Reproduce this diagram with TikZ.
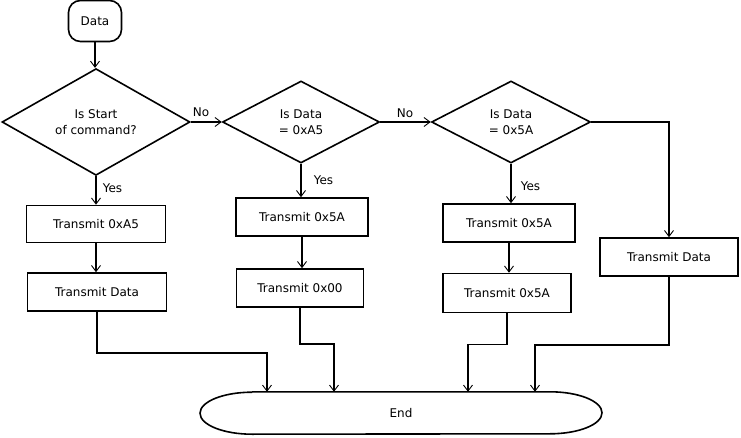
\documentclass[tikz,border=0pt]{standalone}
\usepackage{fontspec}
\setmainfont{DejaVu Sans}
\usetikzlibrary{shapes.geometric,arrows.meta}
\begin{document}
\begin{tikzpicture}[
        x=1pt, y=-1pt,
        proc/.style={
            rectangle,
            draw=black,
            line width=1.6pt,
            inner sep=0pt,
            minimum height=38pt,
            font=\fontsize{12}{16}\selectfont
        },
        decis/.style={
            diamond,
            draw=black,
            line width=1.6pt,
            inner sep=0pt,
            align=center,
            minimum height=82pt,
            font=\fontsize{12}{16}\selectfont
        },
        lbl/.style={font=\fontsize{12}{14}\selectfont, inner sep=0pt},
        flow/.style={
            line width=1.6pt,
            -{Straight Barb[length=6pt,width=9pt,line width=0.9pt]}
        },
        link/.style={line width=1.6pt}
    ]
    \useasboundingbox (0,0) rectangle (741,438);

    % Partenza e decisioni
    \node[proc, rounded corners=12pt, minimum width=53pt, minimum height=41pt] (start) at (95,21) {Data};
    \node[decis, minimum width=188pt, minimum height=94pt] (dec1) at (96,122) {Is Start\\of command?};
    \node[decis, minimum width=157pt] (dec2) at (301,122) {Is Data\\ = 0xA5};
    \node[decis, minimum width=159pt] (dec3) at (511,122) {Is Data\\ = 0x5A};

    % Blocchi di trasmissione, una colonna per ogni ramo
    \node[proc, minimum width=139pt, minimum height=37pt] (a1) at (96,224) {Transmit 0xA5};
    \node[proc, minimum width=139pt] (a2) at (97,292) {Transmit Data};
    \node[proc, minimum width=132pt] (b1) at (302,217) {Transmit 0x5A};
    \node[proc, minimum width=127pt] (b2) at (300,288) {Transmit 0x00};
    \node[proc, minimum width=132pt] (c1) at (509,223) {Transmit 0x5A};
    \node[proc, minimum width=128pt, minimum height=39pt] (c2) at (507,293) {Transmit 0x5A};
    \node[proc, minimum width=138pt] (d1) at (669,257) {Transmit Data};

    % Fine (contorno disegnato a mano)
    \node[lbl, minimum width=401pt, minimum height=42pt] (stop) at (401,413) {End};
    \draw[link] ([xshift=-149pt]stop.north) -- ([xshift=149pt]stop.north)
        arc[start angle=90, end angle=-90, x radius=52pt, y radius=21pt]
        -- ([xshift=-149pt]stop.south)
        arc[start angle=270, end angle=90, x radius=52pt, y radius=21pt];

    % Collegamenti
    \draw[flow] (start.south) -- (start.south |- dec1.north);
    \draw[flow] (dec1.east) -- node[lbl, above=5pt, pos=0.33] {No} (dec2.west);
    \draw[flow] (dec2.east) -- node[lbl, above=4pt, pos=0.49] {No} (dec3.west);
    \draw[flow] (dec3.east) -| (d1.north);

    \draw[flow] (dec1.south) -- node[lbl, right=6pt, pos=0.41] {Yes} (dec1.south |- a1.north);
    \draw[flow] (dec2.south) -- node[lbl, right=12pt, pos=0.5] {Yes} (dec2.south |- b1.north);
    \draw[flow] (dec3.south) -- node[lbl, right=9pt, pos=0.56] {Yes} (dec3.south |- c1.north);

    \draw[flow] (a1.south) -- (a1.south |- a2.north);
    \draw[flow] (b1.south) -- (b1.south |- b2.north);
    \draw[flow] (c1.south) -- (c1.south |- c2.north);

    \draw[flow] (a2.south) -- ++(0,41) -| ([xshift=-134pt]stop.north);
    \draw[flow] (b2.south) -- ++(0,36) -| ([xshift=-67pt]stop.north);
    \draw[flow] (c2.south) -- ++(0,31) -| ([xshift=67pt]stop.north);
    \draw[flow] (d1.south) -- ++(0,68) -| ([xshift=134pt]stop.north);
\end{tikzpicture}
\end{document}
